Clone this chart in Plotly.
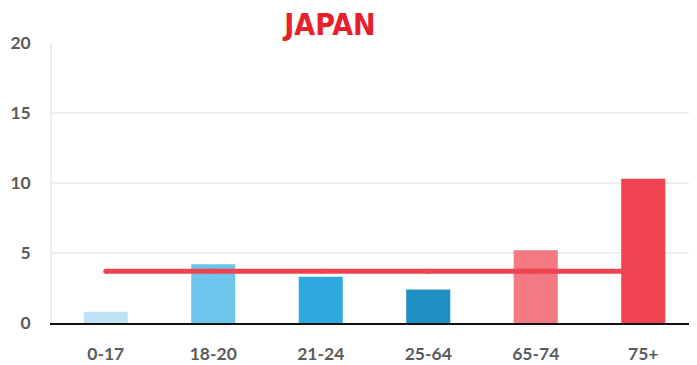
import plotly.graph_objects as go

categories = ["0-17", "18-20", "21-24", "25-64", "65-74", "75+"]
values = [0.8, 4.2, 3.3, 2.4, 5.2, 10.3]
average = 3.7
bar_colors = ["#bde3f5", "#6dc5ec", "#2ea9df", "#218fc4", "#f27a82", "#ef4350"]
y_ticks = [0, 5, 10, 15, 20]

# page body has an 8px default margin; size the figure to compensate
W, H = 689, 357

fig = go.Figure()
fig.add_trace(go.Bar(x=categories, y=values, marker=dict(color=bar_colors, line=dict(width=0)),
                     width=0.41, showlegend=False, hoverinfo="skip"))
fig.add_trace(go.Scatter(x=categories, y=[average] * len(categories), mode="lines+markers",
                         line=dict(color="#ef4350", width=5),
                         marker=dict(color="#ef4350", size=5),
                         showlegend=False, hoverinfo="skip"))

tick_font = dict(family="Lato", size=17.5, color="#5a5a5a", weight="bold")
fig.update_layout(
    width=W, height=H,
    margin=dict(l=44, r=0, t=35, b=42, autoexpand=False),
    paper_bgcolor="white", plot_bgcolor="white",
    title=dict(text="JAPAN", x=322 / W, xanchor="center", y=1 - 16 / H, yanchor="middle",
               font=dict(family="DejaVu Sans Condensed", size=30, color="#e8202a", weight="bold")),
    xaxis=dict(range=[-0.5, 5.5], showgrid=False, showline=True, linecolor="#111111", linewidth=2,
               tickfont=tick_font, ticks="", ticklabelstandoff=14, automargin=False),
    yaxis=dict(range=[0, 20], tickvals=y_ticks, showgrid=True, gridcolor="#eeeeee", gridwidth=1.5,
               zeroline=False, showline=True, linecolor="#eeeeee", linewidth=1.5,
               tickfont=tick_font, ticks="", ticklabelstandoff=16, automargin=False),
)

fig.write_html("out.html")
